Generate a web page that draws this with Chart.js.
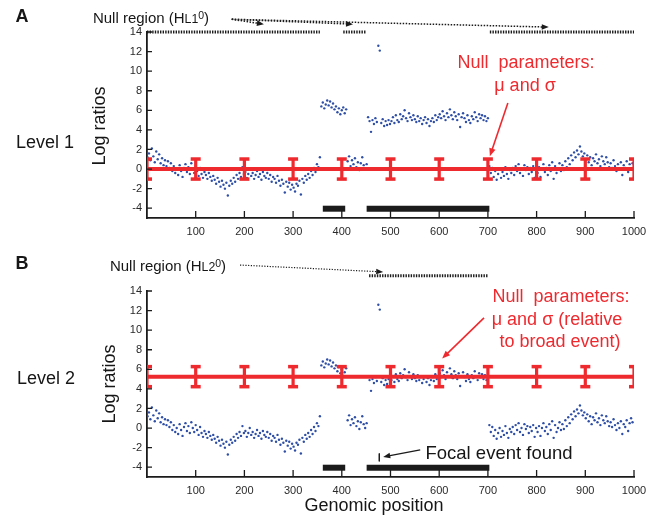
<!DOCTYPE html>
<html>
<head>
<meta charset="utf-8">
<script src="https://cdn.jsdelivr.net/npm/chart.js@4"></script>
<style>
  body { margin: 0; background: #fff; }
  #wrap { position: relative; width: 658px; height: 516px; overflow: hidden; font-family: 'Liberation Sans', Arial, sans-serif; color: #161616; }
  canvas { position: absolute; left: 0; }
  .t { position: absolute; white-space: nowrap; line-height: 1; transform: translate(-50%, -50%); }
  .red { color: #ee2a2f; }
  .rot { transform: translate(-50%, -50%) rotate(-90deg); }
  .sc { font-size: 0.82em; }
  sup { font-size: 0.7em; vertical-align: 0.45em; line-height: 0; }
</style>
</head>
<body>
<div id="wrap">
  <canvas id="levelA" width="658" height="258" style="top:0"></canvas>
  <canvas id="levelB" width="658" height="258" style="top:259px"></canvas>

  <div class="t" style="left:22px; top:16px; font-size:18px; font-weight:bold;">A</div>
  <div class="t" style="left:151px; top:18px; font-size:15px;">Null region (H<span class="sc">L1</span><sup>0</sup>)</div>
  <div class="t" style="left:45px; top:142px; font-size:18px;">Level 1</div>
  <div class="t rot" style="left:99px; top:126px; font-size:18px;">Log ratios</div>
  <div class="t red" style="left:526px; top:62px; font-size:18px;">Null&nbsp; parameters:</div>
  <div class="t red" style="left:525px; top:85px; font-size:18px;">μ and σ</div>

  <div class="t" style="left:22px; top:263px; font-size:18px; font-weight:bold;">B</div>
  <div class="t" style="left:168px; top:266px; font-size:15px;">Null region (H<span class="sc">L2</span><sup>0</sup>)</div>
  <div class="t" style="left:46px; top:378px; font-size:18px;">Level 2</div>
  <div class="t rot" style="left:109px; top:384px; font-size:18px;">Log ratios</div>
  <div class="t red" style="left:561px; top:296px; font-size:18px;">Null&nbsp; parameters:</div>
  <div class="t red" style="left:557px; top:319px; font-size:18px;">μ and σ (relative</div>
  <div class="t red" style="left:560px; top:341px; font-size:18px;">to broad event)</div>
  <div class="t" style="left:499px; top:453px; font-size:18.5px;">Focal event found</div>
  <div class="t" style="left:374px; top:505px; font-size:18px;">Genomic position</div>
</div>

<script>
// log ratios, one probe every 3 positions (1, 4, 7 ... 997)
const logRatio = [
  1.2, 1.6, 0.9, 2.1, 1.3, 0.7, 1.8,
  1.0, 1.5, 0.6, 1.1, 0.4, 0.9, 0.3, 0.8, 0.1, 0.6, -0.2, 0.3, -0.4,
  0.0, -0.6, 0.4, -0.2, -0.8, 0.1, 0.5, -0.3, 0.2, -0.5, 0.6, 0.0, -0.4, 0.3,
  -0.2, -0.7, 0.1, -0.5, -0.9, -0.3, -0.6, -1.0, -0.4, -0.8, -1.2,
  -0.7, -1.1, -1.5, -0.9, -1.3, -1.8, -1.2, -1.6, -2.0, -1.4, -2.7,
  -1.7, -1.2, -1.5, -0.9, -1.3, -0.6, -1.0, -0.4, -0.8, 0.2, -0.5,
  -0.3, -0.9, -0.5, 0.0, -0.7, -0.4, -1.0, -0.6, -0.2, -0.8,
  -0.5, -1.1, -0.3, -0.7, -0.9, -0.4, -1.0, -0.6, -1.3, -0.8,
  -1.0, -1.4, -0.7, -1.2, -1.7, -1.1, -1.5, -2.4, -1.3, -1.8, -1.4, -2.1, -1.6, -1.9, -2.3, -1.5,
  -1.7, -1.2, -2.6, -1.0, -1.4, -0.7, -1.1, -0.5, -0.9, -0.2, -0.6, 0.1, -0.3, 0.5, 0.2, 1.2,
  6.4, 6.8, 6.2, 6.6, 7.0, 6.5, 6.9, 6.3, 6.7, 6.1, 6.4, 5.8, 6.2, 5.6, 6.0, 6.3, 5.7, 6.1,
  0.8, 1.3, 0.3, 0.9, 0.5, 1.1, 0.2, 0.7, -0.1, 0.6, 1.2, 0.4, 0.0, 0.5,
  5.3, 4.9, 3.8, 5.0, 4.6, 5.2, 4.8, 12.6, 12.1, 4.7, 5.1, 4.4, 4.9, 4.5, 5.0, 4.6,
  4.9, 5.3, 4.7, 5.5, 5.0, 4.8, 5.6, 5.1, 5.4, 6.0, 5.2, 4.9, 5.7, 5.3, 5.0, 5.5,
  5.1, 4.8, 5.4, 4.9, 5.2, 4.6, 5.0, 5.3, 4.7, 5.1, 4.4, 4.9, 5.2, 4.8, 5.5, 5.0, 5.3,
  5.6, 5.2, 5.9, 5.4, 5.0, 5.7, 5.3, 6.1, 5.5, 5.1, 5.8, 5.4, 5.0, 5.6, 4.3, 5.3, 5.7,
  5.2, 4.8, 5.5, 5.0, 4.7, 5.4, 5.1, 5.8, 5.3, 4.9, 5.6, 5.2, 5.5, 5.0, 5.4, 4.9, 5.2,
  0.3, -0.4, 0.1, -0.8, -0.2, -1.1, -0.5, 0.0, -0.9, -0.3, -0.7, 0.2, -0.5, -1.0, -0.1, -0.4,
  0.1, -0.6, 0.3, -0.2, 0.5, -0.4, 0.0, -0.7, 0.4, -0.1, 0.2, -0.5, 0.1, -0.3, 0.3, -0.9, 0.0,
  -0.4, 0.2, -0.8, 0.0, 0.5, -0.3, 0.1, -0.6, 0.4, -0.2, 0.7, -1.0, 0.3, -0.4, 0.0, 0.6, -0.2,
  0.4, -0.1, 0.8, 0.2, 1.1, 0.5, 1.4, 0.9, 1.7, 1.2, 1.9, 1.5, 2.3, 1.8, 1.3, 1.6,
  1.0, 1.4, 0.7, 1.2, 0.4, 1.1, 0.8, 1.5, 0.6, 1.0, 0.3, 1.3, 0.8, 0.5, 1.2, 0.7, 0.2,
  0.6, 0.1, 0.9, 0.3, -0.2, 0.5, 0.0, 0.7, -0.6, 0.4, 0.1, 0.8, -0.3, 0.5, 1.0, 0.6,
];
const positions = logRatio.map((_, i) => 1 + 3 * i);

const xTicks = [100, 200, 300, 400, 500, 600, 700, 800, 900, 1000];
const yTicks = [-4, -2, 0, 2, 4, 6, 8, 10, 12, 14];

const nullBarPositions = [0, 100, 200, 300, 400, 500, 600, 700, 800, 900, 1000];
const nullMuLevel1 = 0;
const nullMuLevel2 = 5.25;
const nullSigma = 1.05;

const eventSegments = [[361, 407], [451, 703]];
const nullRegionLevel1 = [[0, 355], [403, 450], [704, 1000]];
const nullRegionLevel2 = [[456, 700]];
const focalEventPos = 477;

const RED = '#ee2a2f';
const BLUE = '#2f4fa6';
const INK = '#1b1b1b';
const TICK_FONT = { family: "'Liberation Sans Narrow', 'Liberation Sans', Arial, sans-serif", size: 11 };

function drawArrow(ctx, x0, y0, x1, y1, s) {
  const ang = Math.atan2(y1 - y0, x1 - x0);
  const head = s.head || 7;
  const c = Math.cos(ang), sn = Math.sin(ang);
  ctx.save();
  ctx.strokeStyle = s.color;
  ctx.fillStyle = s.color;
  ctx.lineWidth = s.width;
  ctx.setLineDash(s.dash || []);
  ctx.beginPath();
  ctx.moveTo(x0, y0);
  ctx.lineTo(x1 - c * head * 0.8, y1 - sn * head * 0.8);
  ctx.stroke();
  ctx.setLineDash([]);
  ctx.beginPath();
  ctx.moveTo(x1, y1);
  ctx.lineTo(x1 - head * c + head * 0.4 * sn, y1 - head * sn - head * 0.4 * c);
  ctx.lineTo(x1 - head * c - head * 0.4 * sn, y1 - head * sn + head * 0.4 * c);
  ctx.closePath();
  ctx.fill();
  ctx.restore();
}

function overlayFor(mu, arrows) {
  return {
    id: 'overlay',
    afterDatasetsDraw(chart) {
      const { ctx, chartArea: a, scales: { x, y } } = chart;
      // null parameter bars (mu +/- sigma)
      ctx.save();
      ctx.beginPath();
      ctx.rect(a.left, 0, a.right - a.left, chart.height);
      ctx.clip();
      ctx.fillStyle = RED;
      const top = y.getPixelForValue(mu + nullSigma);
      const bot = y.getPixelForValue(mu - nullSigma);
      for (const bx of nullBarPositions) {
        const px = x.getPixelForValue(bx);
        ctx.fillRect(px - 1.6, top, 3.2, bot - top);
        ctx.fillRect(px - 5, top - 1.5, 10, 3.5);
        ctx.fillRect(px - 5, bot - 2, 10, 3.5);
      }
      ctx.restore();
    },
    afterDraw(chart) {
      const { ctx, chartArea: a, scales: { x, y } } = chart;
      // inward tick marks
      ctx.save();
      ctx.strokeStyle = INK;
      ctx.lineWidth = 1.3;
      ctx.beginPath();
      for (const v of xTicks) {
        const px = x.getPixelForValue(v);
        ctx.moveTo(px, a.bottom);
        ctx.lineTo(px, a.bottom - 7);
      }
      for (const v of yTicks) {
        const py = y.getPixelForValue(v);
        ctx.moveTo(a.left, py);
        ctx.lineTo(a.left + 5, py);
      }
      ctx.stroke();
      ctx.restore();
      for (const ar of arrows) {
        drawArrow(ctx, x.getPixelForValue(ar.from[0]), y.getPixelForValue(ar.from[1]),
          x.getPixelForValue(ar.to[0]), y.getPixelForValue(ar.to[1]), ar);
      }
    },
  };
}

function makeChart(id, mu, nullRegion, nullRegionY, arrows, focal) {
  const datasets = [
    { data: [{ x: 0, y: mu }, { x: 1000, y: mu }], showLine: true, borderColor: RED, borderWidth: 4, pointRadius: 0, order: 1 },
    ...eventSegments.map(([s, e]) => ({
      data: [{ x: s, y: -4.05 }, { x: e, y: -4.05 }], showLine: true, borderColor: INK, borderWidth: 6,
      borderCapStyle: 'butt', pointRadius: 0, order: 2,
    })),
    ...nullRegion.map(([s, e]) => ({
      data: [{ x: s, y: nullRegionY }, { x: e, y: nullRegionY }], showLine: true, borderColor: INK, borderWidth: 3,
      borderDash: [1.4, 1.2], borderCapStyle: 'butt', pointRadius: 0, clip: false, order: 2,
    })),
    {
      data: positions.map((p, i) => ({ x: p, y: logRatio[i] })),
      pointRadius: 1.2, pointBackgroundColor: BLUE, pointBorderWidth: 0, order: 5,
    },
  ];
  if (focal) {
    datasets.push({
      data: [{ x: focalEventPos, y: -2.6 }, { x: focalEventPos, y: -3.4 }], showLine: true,
      borderColor: INK, borderWidth: 1, pointRadius: 0, order: 2,
    });
  }
  return new Chart(document.getElementById(id), {
    type: 'scatter',
    data: { datasets },
    plugins: [overlayFor(mu, arrows)],
    options: {
      responsive: false,
      animation: false,
      devicePixelRatio: 1,
      layout: { padding: { left: 100, right: 24, top: 32, bottom: 0 } },
      plugins: { legend: { display: false }, tooltip: { enabled: false } },
      scales: {
        x: {
          type: 'linear', min: 0, max: 1000,
          afterBuildTicks: (s) => { s.ticks = xTicks.map((v) => ({ value: v })); },
          afterFit: (s) => { s.height = 40; },
          grid: { display: false, drawTicks: false },
          border: { color: INK, width: 1.8 },
          ticks: { padding: 7, font: TICK_FONT, color: '#2a2a2a', maxRotation: 0, autoSkip: false, callback: (v) => String(v) },
        },
        y: {
          min: -5, max: 14,
          afterBuildTicks: (s) => { s.ticks = yTicks.map((v) => ({ value: v })); },
          afterFit: (s) => { s.width = 47; },
          grid: { display: false, drawTicks: false },
          border: { color: INK, width: 1.8 },
          ticks: { padding: 5, font: TICK_FONT, color: '#2a2a2a', autoSkip: false, callback: (v) => String(v) },
        },
      },
    },
  });
}

const dotted = { color: INK, width: 1.5, dash: [1.5, 1.5], head: 7 };
makeChart('levelA', nullMuLevel1, nullRegionLevel1, 14, [
  { ...dotted, from: [174, 15.3], to: [240, 14.8] },
  { ...dotted, from: [174, 15.3], to: [423, 14.8] },
  { ...dotted, from: [174, 15.3], to: [825, 14.5] },
  { color: RED, width: 1.6, head: 8, from: [741, 6.75], to: [704, 1.3] },
], false);

makeChart('levelB', nullMuLevel2, nullRegionLevel2, 15.55, [
  { color: INK, width: 1.2, dash: [1.2, 1.5], head: 7, from: [191, 16.65], to: [485, 15.95] },
  { color: RED, width: 1.6, head: 8, from: [692, 11.25], to: [606, 7.1] },
  { color: INK, width: 1.5, head: 7, from: [561, -2.23], to: [485, -2.95] },
], true);
</script>
</body>
</html>
